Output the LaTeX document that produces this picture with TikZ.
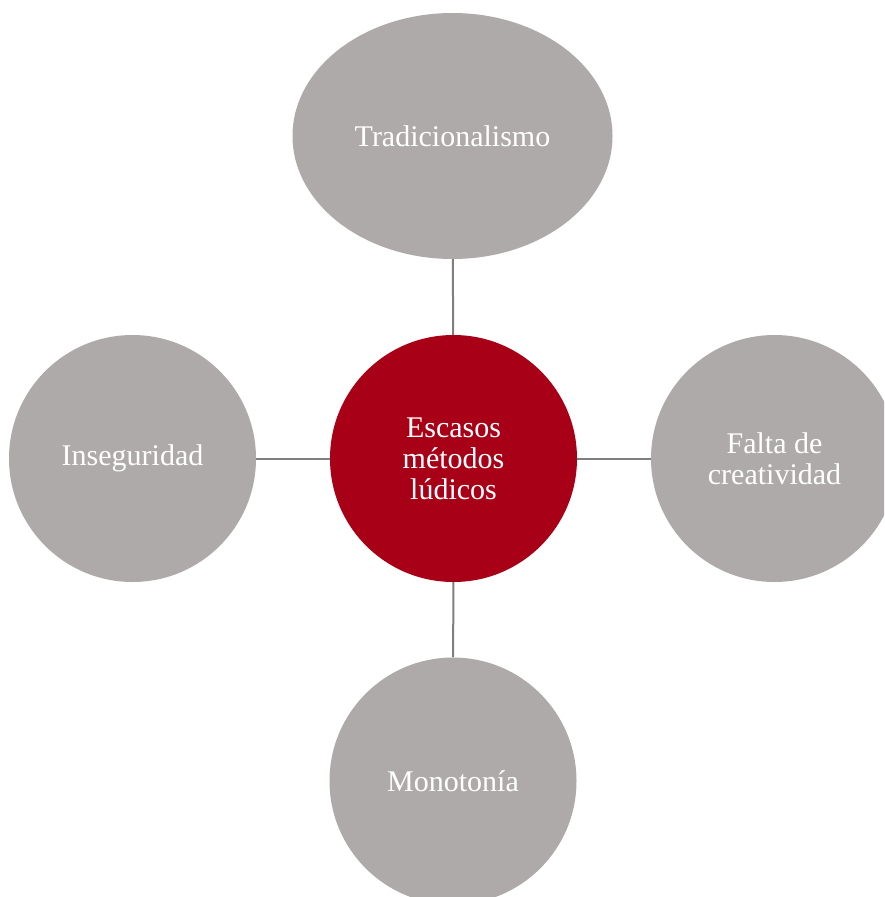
\documentclass[tikz,border=0pt]{standalone}
\usepackage{fontspec}
\setmainfont{Liberation Serif}
\usetikzlibrary{shapes.geometric,backgrounds}
\definecolor{bubblegray}{HTML}{AEAAAA}
\definecolor{hubred}{HTML}{A80016}
\definecolor{linkgray}{HTML}{7F7F7F}
\begin{document}
\begin{tikzpicture}[x=1pt,y=-1pt,
  bubble/.style={circle,fill=bubblegray,minimum size=247pt,inner sep=0pt,text=white,align=center,font=\fontsize{30}{31}\selectfont},
  hub/.style={bubble,fill=hubred},
  link/.style={draw=linkgray,line width=2pt}]
\useasboundingbox (0,0) rectangle (884,897);
\clip (0,0) rectangle (884,897);
\node[hub] (c) at (453.5,458.5) {Escasos\\métodos\\lúdicos};
\node[bubble,ellipse,minimum width=320pt,minimum height=246pt] (t) at (452.5,136) {Tradicionalismo};
\node[bubble] (l) at (132.5,458.5) {Inseguridad};
\node[bubble] (r) at (774.5,458.5) {Falta de\\creatividad};
\node[bubble] (b) at (453,781) {Monotonía};
\begin{scope}[on background layer]
\draw[link] (c) -- (t);
\draw[link] (c) -- (l);
\draw[link] (c) -- (r);
\draw[link] (c) -- (b);
\end{scope}
\end{tikzpicture}
\end{document}
